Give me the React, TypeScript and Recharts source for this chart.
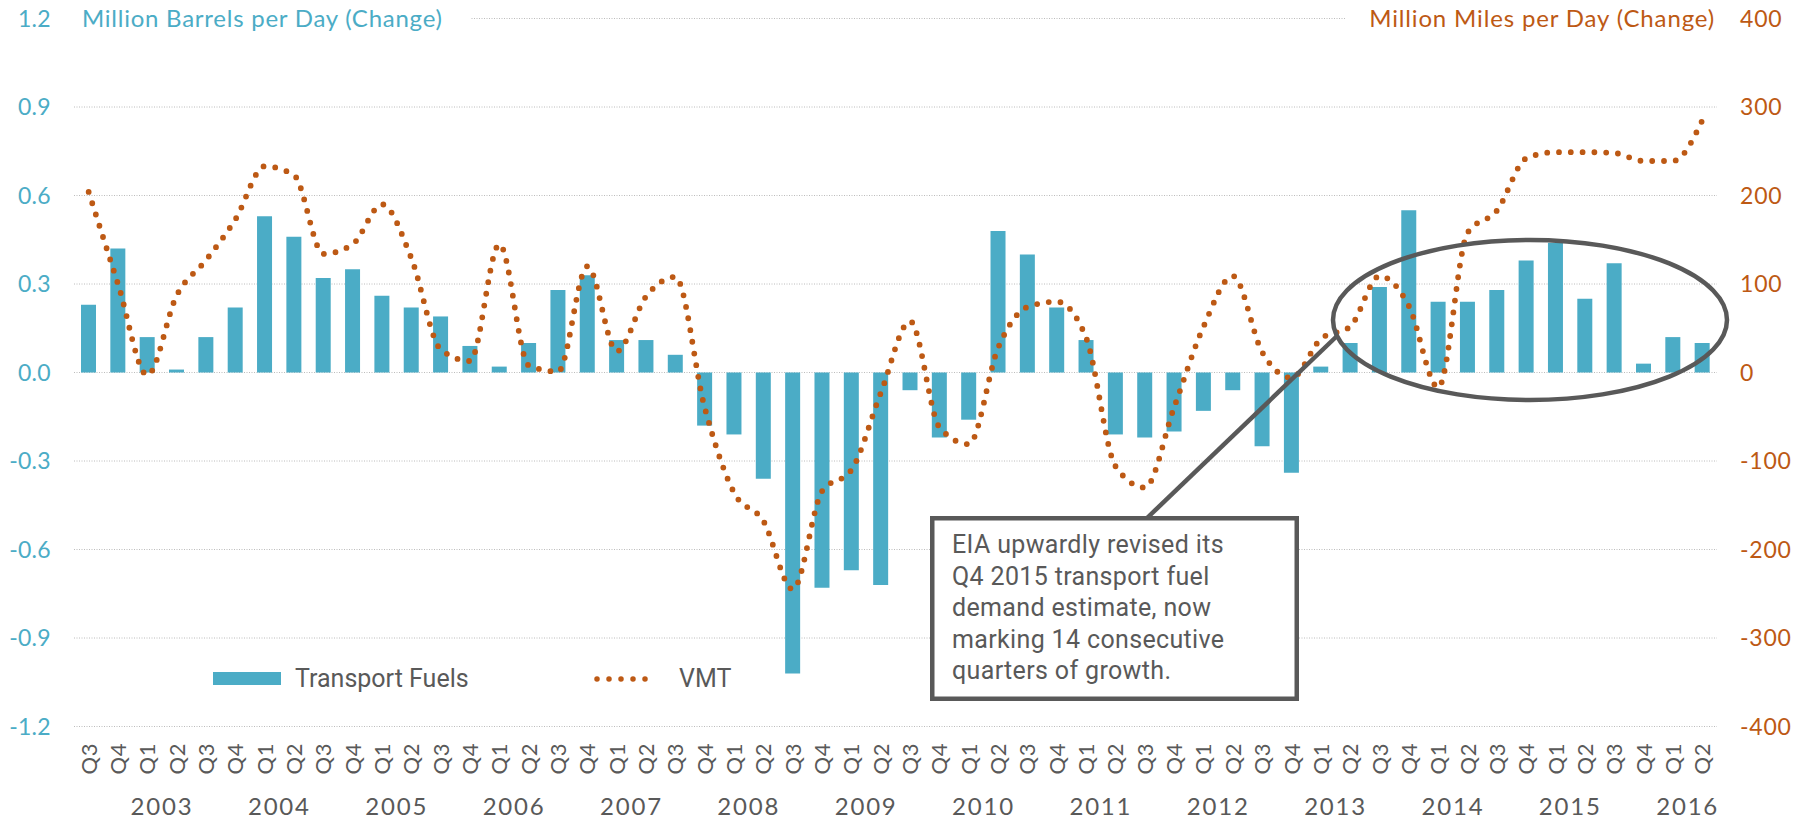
import { ComposedChart, Bar, Line, XAxis, YAxis, CartesianGrid, Legend } from 'recharts';

// quarters shown on the category axis
const periods = [
  '2002 Q3', '2002 Q4',
  '2003 Q1', '2003 Q2', '2003 Q3', '2003 Q4',
  '2004 Q1', '2004 Q2', '2004 Q3', '2004 Q4',
  '2005 Q1', '2005 Q2', '2005 Q3', '2005 Q4',
  '2006 Q1', '2006 Q2', '2006 Q3', '2006 Q4',
  '2007 Q1', '2007 Q2', '2007 Q3', '2007 Q4',
  '2008 Q1', '2008 Q2', '2008 Q3', '2008 Q4',
  '2009 Q1', '2009 Q2', '2009 Q3', '2009 Q4',
  '2010 Q1', '2010 Q2', '2010 Q3', '2010 Q4',
  '2011 Q1', '2011 Q2', '2011 Q3', '2011 Q4',
  '2012 Q1', '2012 Q2', '2012 Q3', '2012 Q4',
  '2013 Q1', '2013 Q2', '2013 Q3', '2013 Q4',
  '2014 Q1', '2014 Q2', '2014 Q3', '2014 Q4',
  '2015 Q1', '2015 Q2', '2015 Q3', '2015 Q4',
  '2016 Q1', '2016 Q2',
];

// million barrels per day, year-on-year change
const transportFuels = [
  0.23, 0.42,
  0.12, 0.01, 0.12, 0.22,
  0.53, 0.46, 0.32, 0.35,
  0.26, 0.22, 0.19, 0.09,
  0.02, 0.10, 0.28, 0.33,
  0.11, 0.11, 0.06, -0.18,
  -0.21, -0.36, -1.02, -0.73,
  -0.67, -0.72, -0.06, -0.22,
  -0.16, 0.48, 0.40, 0.22,
  0.11, -0.21, -0.22, -0.20,
  -0.13, -0.06, -0.25, -0.34,
  0.02, 0.10, 0.29, 0.55,
  0.24, 0.24, 0.28, 0.38,
  0.44, 0.25, 0.37, 0.03,
  0.12, 0.10,
];

// million vehicle miles per day, year-on-year change
const vmt = [
  204, 100,
  -3, 87, 127, 173,
  233, 223, 134, 145,
  190, 129, 26, 13,
  145, 8, 1, 120,
  24, 86, 108, -40,
  -136, -168, -245, -134,
  -110, -23, 58, -62,
  -81, 28, 74, 80,
  39, -106, -130, -39,
  52, 109, 23, -6,
  38, 52, 109, 75,
  -17, 158, 183, 242,
  249, 249, 248, 239,
  239, 285,
];

const leftTicks = [1.2, 0.9, 0.6, 0.3, 0, -0.3, -0.6, -0.9, -1.2];
const rightTicks = [400, 300, 200, 100, 0, -100, -200, -300, -400];

const noteLines = [
  'EIA upwardly revised its',
  'Q4 2015 transport fuel',
  'demand estimate, now',
  'marking 14 consecutive',
  'quarters of growth.',
];

const TEAL = '#4BACC6';
const RUST = '#BD5914';
const GREY = '#595959';
const TITLE_FONT = 'Lato, "Open Sans", sans-serif';
const TEXT_FONT = 'Roboto, "Noto Sans", sans-serif';

const W = 1810;
const H = 820;
const PLOT_LEFT = 74;
const PLOT_RIGHT = 1717;
const PLOT_TOP = 18.5;
const PLOT_BOTTOM = 726.5;
const BAND = (PLOT_RIGHT - PLOT_LEFT) / periods.length;

const chartData = periods.map((period, i) => ({
  period,
  fuels: transportFuels[i],
  vmt: vmt[i],
}));

const LeftTick = ({ y, payload }: any) => (
  <text x={51} y={y} dy="0.36em" textAnchor="end" fill={TEAL} fontSize={23} letterSpacing={0.3} fontFamily={TITLE_FONT}>
    {Number(payload.value).toFixed(1)}
  </text>
);

const RightTick = ({ y, payload }: any) => (
  <text x={1740} y={y} dy="0.36em" textAnchor="start" fill={RUST} fontSize={23} letterSpacing={0.8} fontFamily={TITLE_FONT}>
    {payload.value}
  </text>
);

const QuarterTick = ({ x, payload }: any) => {
  const [year, q] = String(payload.value).split(' ');
  return (
    <g>
      <text
        transform={`translate(${x},743) rotate(-90)`}
        dy="0.36em"
        textAnchor="end"
        fill={GREY}
        fontSize={22}
        letterSpacing={0.5}
        fontFamily={TITLE_FONT}
      >
        {q}
      </text>
      {q === 'Q1' && (
        <text x={x + BAND / 2} y={806} dy="0.36em" textAnchor="middle" fill={GREY} fontSize={24} letterSpacing={1.8} fontFamily={TITLE_FONT}>
          {year}
        </text>
      )}
    </g>
  );
};

const LegendContent = () => (
  <svg width={800} height={45} style={{ overflow: 'visible' }}>
    <rect x={213} y={14} width={68} height={13} fill={TEAL} />
    <text x={295} y={20} dy="0.36em" fill={GREY} fontSize={25} fontFamily={TEXT_FONT}>
      Transport Fuels
    </text>
    <line x1={597} y1={21} x2={657} y2={21} stroke={RUST} strokeWidth={5.5} strokeDasharray="0 12" strokeLinecap="round" />
    <text x={679} y={20} dy="0.36em" fill={GREY} fontSize={25} fontFamily={TEXT_FONT}>
      VMT
    </text>
  </svg>
);

export default function App() {
  return (
    <div style={{ position: 'absolute', left: 0, top: 0, width: W, height: H, background: '#fff', fontFamily: TITLE_FONT }}>
      <ComposedChart
        width={W}
        height={H}
        data={chartData}
        margin={{ top: PLOT_TOP, right: 0, bottom: 0, left: 0 }}
      >
        <CartesianGrid yAxisId="left" vertical={false} stroke="#bcbcbc" strokeDasharray="1 1.5" />
        <XAxis
          dataKey="period"
          interval={0}
          axisLine={false}
          tickLine={false}
          height={H - PLOT_BOTTOM}
          tick={<QuarterTick />}
        />
        <YAxis
          yAxisId="left"
          domain={[-1.2, 1.2]}
          ticks={leftTicks}
          width={PLOT_LEFT}
          axisLine={false}
          tickLine={false}
          tick={<LeftTick />}
        />
        <YAxis
          yAxisId="right"
          orientation="right"
          domain={[-400, 400]}
          ticks={rightTicks}
          width={W - PLOT_RIGHT}
          axisLine={false}
          tickLine={false}
          tick={<RightTick />}
        />
        <Legend
          layout="horizontal"
          verticalAlign="middle"
          align="center"
          content={<LegendContent />}
          wrapperStyle={{ left: 0, top: 658, width: 800, height: 45 }}
        />
        <Bar yAxisId="left" dataKey="fuels" name="Transport Fuels" fill={TEAL} barSize={15} isAnimationActive={false} />
        <Line
          yAxisId="right"
          dataKey="vmt"
          name="VMT"
          type="monotone"
          stroke={RUST}
          strokeWidth={5.8}
          strokeDasharray="0 11.8"
          strokeLinecap="round"
          dot={false}
          activeDot={false}
          isAnimationActive={false}
        />
      </ComposedChart>

      {/* axis titles and the call-out, drawn over the plot */}
      <svg width={W} height={H} style={{ position: 'absolute', left: 0, top: 0, pointerEvents: 'none' }}>
        <rect x={60} y={4} width={410} height={30} fill="#fff" />
        <text x={82} y={18.5} dy="0.36em" fill={TEAL} fontSize={24} letterSpacing={0.75} fontFamily={TITLE_FONT}>
          Million Barrels per Day (Change)
        </text>
        <rect x={1345} y={4} width={380} height={30} fill="#fff" />
        <text x={1715} y={18.5} dy="0.36em" textAnchor="end" fill={RUST} fontSize={24} letterSpacing={0.85} fontFamily={TITLE_FONT}>
          Million Miles per Day (Change)
        </text>

        <ellipse cx={1530} cy={320} rx={197} ry={80} fill="none" stroke={GREY} strokeWidth={4.5} />
        <line x1={1145} y1={520} x2={1337} y2={336} stroke={GREY} strokeWidth={4.5} />
        <rect x={932.25} y={518.25} width={364.5} height={180.5} fill="#fff" stroke={GREY} strokeWidth={4.5} />
        {noteLines.map((line, i) => (
          <text key={line} x={952} y={544 + i * 31.6} dy="0.36em" fill={GREY} fontSize={25} letterSpacing={0.35} fontFamily={TEXT_FONT}>
            {line}
          </text>
        ))}
      </svg>
    </div>
  );
}
